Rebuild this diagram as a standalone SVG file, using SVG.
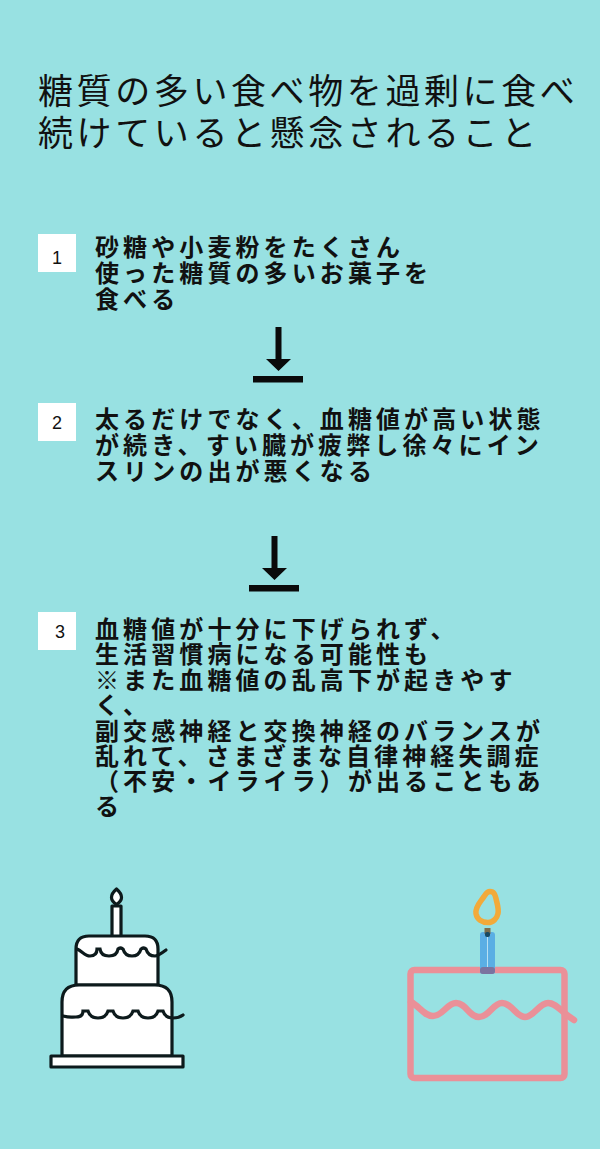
<svg xmlns="http://www.w3.org/2000/svg" width="600" height="1149" viewBox="0 0 600 1149">
<style>
text{font-family:"Noto Sans CJK JP","Noto Sans CJK SC",sans-serif;fill:#111}
.t{font-size:35px;letter-spacing:3.6px;font-weight:400}
.s{font-size:24px;letter-spacing:4.1px;font-weight:700}
.n{font-family:"Liberation Sans Narrow","Liberation Sans",sans-serif;font-size:18px;text-anchor:middle;font-weight:400}
.k{fill:#fff;stroke:#0d1a1c;stroke-width:3.2;stroke-linejoin:round}
.w{fill:none;stroke:#0d1a1c;stroke-width:3.2;stroke-linecap:round}
.p{fill:none;stroke:#ea9098;stroke-width:6.5;stroke-linejoin:round}
</style>
<rect width="600" height="1149" fill="#98e1e2"/>
<g id="title">
<text class="t" x="38" y="104">糖質の多い食べ物を過剰に食べ</text>
<text class="t" x="38" y="146">続けていると懸念されること</text>
</g>
<g id="step1">
<rect x="38" y="234" width="38" height="38" fill="#fff"/>
<text class="n" x="57" y="264">1</text>
<text class="s" x="95" y="256">砂糖や小麦粉をたくさん</text>
<text class="s" x="95" y="282">使った糖質の多いお菓子を</text>
<text class="s" x="95" y="308">食べる</text>
</g>
<g id="step2">
<rect x="38" y="403" width="38" height="38" fill="#fff"/>
<text class="n" x="57" y="429">2</text>
<text class="s" x="95" y="428">太るだけでなく、血糖値が高い状態</text>
<text class="s" x="95" y="454">が続き、すい臓が疲弊し徐々にイン</text>
<text class="s" x="95" y="480">スリンの出が悪くなる</text>
</g>
<g id="step3">
<rect x="38" y="612" width="38" height="38" fill="#fff"/>
<text class="n" x="60" y="638">3</text>
<text class="s" x="95" y="638">血糖値が十分に下げられず、</text>
<text class="s" x="95" y="663">生活習慣病になる可能性も</text>
<text class="s" x="95" y="689">※また血糖値の乱高下が起きやす</text>
<text class="s" x="95" y="714">く、</text>
<text class="s" x="95" y="740">副交感神経と交換神経のバランスが</text>
<text class="s" x="95" y="765">乱れて、さまざまな自律神経失調症</text>
<text class="s" x="95" y="790">（不安・イライラ）が出ることもあ</text>
<text class="s" x="95" y="815">る</text>
</g>
<g id="connectors" fill="#0a0a0a">
<path d="M275.500 327h6v32h9.500l-12.500 12-12.500-12h9.500z"/>
<rect x="253" y="376" width="50" height="6.500"/>
<path d="M271.500 536h6v32h9.500l-12.500 12-12.500-12h9.500z"/>
<rect x="249" y="585" width="50" height="6.500"/>
</g>
<g id="cake-white">
<rect class="k" x="112" y="906" width="9" height="31"/>
<path class="k" d="M116.500 889c3.500 3 5 5.500 5 8.500s-2 5-5 7c-3-2-5-4-5-7s1.500-5.500 5-8.500z"/>
<path class="k" d="M76 985v-36q0-13 13-13h56q13 0 13 13v36z"/>
<path class="k" d="M62 1056v-54q0-17 17-17h76q17 0 17 17v54z"/>
<rect class="k" x="51" y="1056" width="132" height="11"/>
<path class="w" d="M77 949c5 2 8 7 13 7q7 0 7-7q2 0 3 0q1 7 9 7t9-7q2-2 5 0q2 7 9 7t9-7q3-2 5 0q2 7 9 7q3 0 11-6"/>
<path class="w" d="M63 1016c8 2 8 1 13 1q7 0 7-6h5q2 7 10 7t10-7h5q2 7 10 7t10-7h5q2 7 10 7t10-7h5q2 7 10 7 6 0 10-3"/>
</g>
<g id="cake-colour">
<rect class="p" x="410.500" y="970" width="154" height="108" rx="4"/>
<path class="p" d="M411 1002c8 4 13 14 22 14 10 0 14-13 23-13 10 0 13 14 23 14s14-14 23-14c10 0 14 14 23 14 9 0 14-14 23-14 8 0 12 8 26 17" stroke-linecap="round"/>
<rect x="480" y="932" width="15" height="42" rx="3" fill="#5aaee4"/>
<rect x="480" y="967" width="15" height="7" rx="3" fill="#7b739f"/>
<rect x="487" y="935" width="1" height="32" fill="#b8e0f2"/>
<rect x="484.500" y="928" width="6" height="6" fill="#7c6d4b"/>
<rect x="485" y="932" width="5" height="5" rx="2" fill="#164a63"/>
<path d="M490 891.500c4 0 5 3 6 7 1 5 3 10 2 15-1 5-5 9-10 9-6 0-11-3-12-9-1-7 5-12 8-17 2-3 3-5 6-5z" fill="none" stroke="#f2aa3a" stroke-width="5.500" stroke-linejoin="round"/>
</g>
</svg>
